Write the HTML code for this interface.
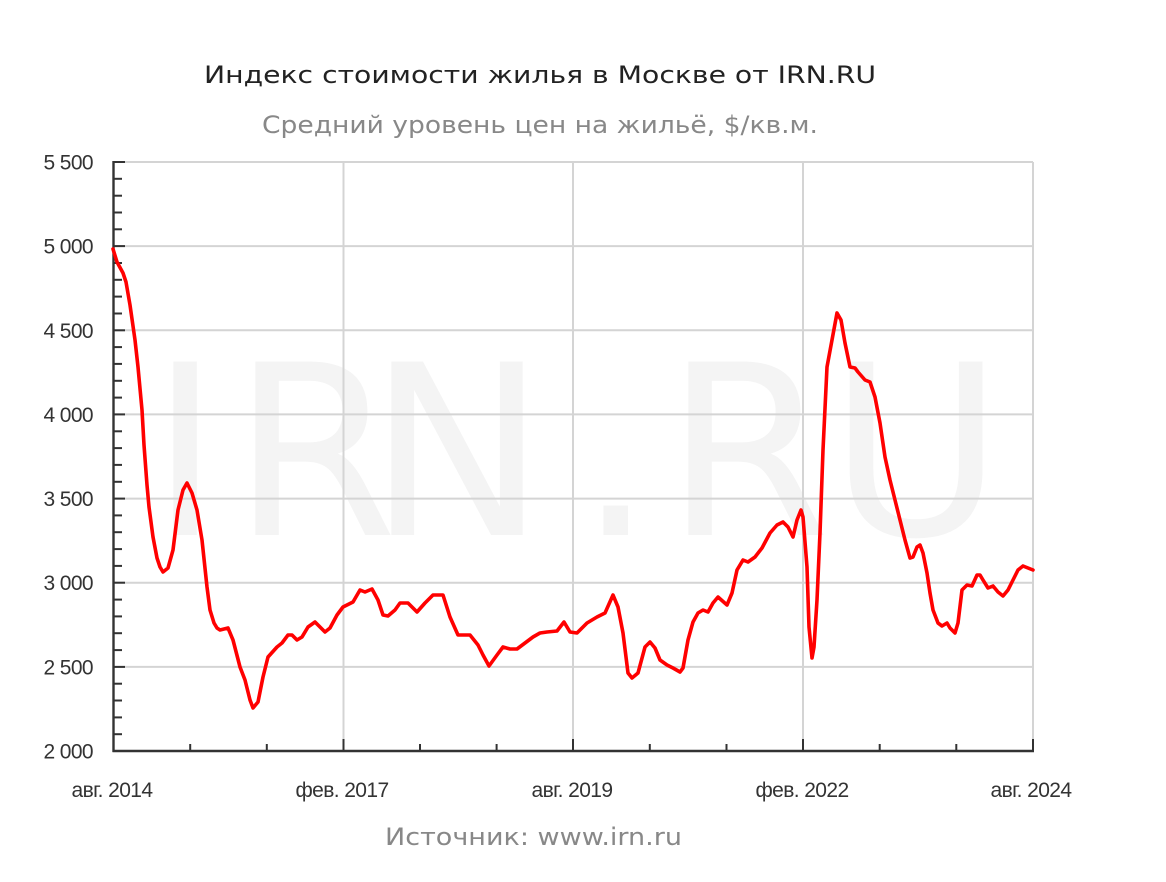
<!DOCTYPE html>
<html>
<head>
<meta charset="utf-8">
<style>
html,body{margin:0;padding:0;background:#fff;}
svg{display:block;}
</style>
</head>
<body>
<svg width="1166" height="882" viewBox="0 0 1166 882" xmlns="http://www.w3.org/2000/svg">
<rect x="0" y="0" width="1166" height="882" fill="#fff"/>
<!-- watermark -->
<g font-family="'DejaVu Sans', Verdana, sans-serif" font-size="238" fill="#f4f4f4">
<text x="150" y="535">I</text>
<text x="232" y="535">R</text>
<text x="368" y="535">N</text>
<text x="578" y="535">.</text>
<text x="665" y="535">R</text>
<text x="829" y="535">U</text>
</g>
<!-- gridlines -->
<g stroke="#d4d4d4" stroke-width="2" fill="none">
<line x1="113" y1="162" x2="1033" y2="162"/>
<line x1="113" y1="246.1" x2="1033" y2="246.1"/>
<line x1="113" y1="330.3" x2="1033" y2="330.3"/>
<line x1="113" y1="414.4" x2="1033" y2="414.4"/>
<line x1="113" y1="498.6" x2="1033" y2="498.6"/>
<line x1="113" y1="582.7" x2="1033" y2="582.7"/>
<line x1="113" y1="666.9" x2="1033" y2="666.9"/>
<line x1="343.5" y1="162" x2="343.5" y2="751"/>
<line x1="573" y1="162" x2="573" y2="751"/>
<line x1="803" y1="162" x2="803" y2="751"/>
<line x1="1033" y1="162" x2="1033" y2="751"/>
</g>
<!-- axes -->
<g stroke="#333" stroke-width="2.4" fill="none">
<line x1="113.5" y1="161" x2="113.5" y2="752"/>
<line x1="112.5" y1="751" x2="1034" y2="751"/>
</g>
<!-- y ticks -->
<g stroke="#333" stroke-width="2">
<line x1="113" y1="162" x2="125" y2="162"/>
<line x1="113" y1="178.8" x2="122" y2="178.8"/>
<line x1="113" y1="195.7" x2="122" y2="195.7"/>
<line x1="113" y1="212.5" x2="122" y2="212.5"/>
<line x1="113" y1="229.3" x2="122" y2="229.3"/>
<line x1="113" y1="246.1" x2="125" y2="246.1"/>
<line x1="113" y1="263.0" x2="122" y2="263.0"/>
<line x1="113" y1="279.8" x2="122" y2="279.8"/>
<line x1="113" y1="296.6" x2="122" y2="296.6"/>
<line x1="113" y1="313.5" x2="122" y2="313.5"/>
<line x1="113" y1="330.3" x2="125" y2="330.3"/>
<line x1="113" y1="347.1" x2="122" y2="347.1"/>
<line x1="113" y1="363.9" x2="122" y2="363.9"/>
<line x1="113" y1="380.8" x2="122" y2="380.8"/>
<line x1="113" y1="397.6" x2="122" y2="397.6"/>
<line x1="113" y1="414.4" x2="125" y2="414.4"/>
<line x1="113" y1="431.3" x2="122" y2="431.3"/>
<line x1="113" y1="448.1" x2="122" y2="448.1"/>
<line x1="113" y1="464.9" x2="122" y2="464.9"/>
<line x1="113" y1="481.8" x2="122" y2="481.8"/>
<line x1="113" y1="498.6" x2="125" y2="498.6"/>
<line x1="113" y1="515.4" x2="122" y2="515.4"/>
<line x1="113" y1="532.2" x2="122" y2="532.2"/>
<line x1="113" y1="549.1" x2="122" y2="549.1"/>
<line x1="113" y1="565.9" x2="122" y2="565.9"/>
<line x1="113" y1="582.7" x2="125" y2="582.7"/>
<line x1="113" y1="599.6" x2="122" y2="599.6"/>
<line x1="113" y1="616.4" x2="122" y2="616.4"/>
<line x1="113" y1="633.2" x2="122" y2="633.2"/>
<line x1="113" y1="650.1" x2="122" y2="650.1"/>
<line x1="113" y1="666.9" x2="125" y2="666.9"/>
<line x1="113" y1="683.7" x2="122" y2="683.7"/>
<line x1="113" y1="700.5" x2="122" y2="700.5"/>
<line x1="113" y1="717.4" x2="122" y2="717.4"/>
<line x1="113" y1="734.2" x2="122" y2="734.2"/>
</g>
<!-- x ticks -->
<g stroke="#333" stroke-width="2">
<line x1="190.2" y1="744" x2="190.2" y2="751"/>
<line x1="266.8" y1="744" x2="266.8" y2="751"/>
<line x1="343.5" y1="739" x2="343.5" y2="751"/>
<line x1="420" y1="744" x2="420" y2="751"/>
<line x1="496.6" y1="744" x2="496.6" y2="751"/>
<line x1="573" y1="739" x2="573" y2="751"/>
<line x1="649.8" y1="744" x2="649.8" y2="751"/>
<line x1="726.5" y1="744" x2="726.5" y2="751"/>
<line x1="803" y1="739" x2="803" y2="751"/>
<line x1="879.7" y1="744" x2="879.7" y2="751"/>
<line x1="956.3" y1="744" x2="956.3" y2="751"/>
<line x1="1033" y1="739" x2="1033" y2="751"/>
</g>
<!-- y labels -->
<g font-family="'Liberation Sans', Arial, sans-serif" font-size="21" fill="#333" text-anchor="end" letter-spacing="-0.6">
<text x="93" y="169.5">5 500</text>
<text x="93" y="253.6">5 000</text>
<text x="93" y="337.8">4 500</text>
<text x="93" y="421.9">4 000</text>
<text x="93" y="506.1">3 500</text>
<text x="93" y="590.2">3 000</text>
<text x="93" y="674.4">2 500</text>
<text x="93" y="758.5">2 000</text>
</g>
<!-- x labels -->
<g font-family="'Liberation Sans', Arial, sans-serif" font-size="21" fill="#333" text-anchor="middle" letter-spacing="-0.6">
<text x="112" y="797">авг. 2014</text>
<text x="342" y="797">фев. 2017</text>
<text x="572" y="797">авг. 2019</text>
<text x="802" y="797">фев. 2022</text>
<text x="1031" y="797">авг. 2024</text>
</g>
<!-- data line -->
<polyline fill="none" stroke="#ff0000" stroke-width="3.6" stroke-linejoin="round" stroke-linecap="round" points="
113,249 117,262 123,273 126,282 130,305 135,340 138,367 142,410 144,445 147,485 149,507 153,537 157,558 160,567 163,572 168,568 173,550 178,510 183,490 187,483 192,493 197,510 202,540 207,587 210,610 214,623 217,628 220,630 228,628 233,640 240,667 245,680 250,700 253,708 258,702 263,677 268,657 277,647 282,643 288,635 292,635 297,640 302,637 308,627 315,622 320,627 325,632 330,628 337,615 343,607 347,605 353,602 360,590 365,592 372,589 378,600 383,615 388,616 395,610 400,603 408,603 417,612 425,603 433,595 443,595 450,617 458,635 470,635 478,645 483,655 489,666 497,655 503,647 510,649 517,649 525,643 533,637 540,633 547,632 557,631 564,622 570,632 577,633 587,623 597,617 605,613 613,595 618,607 623,633 628,673 632,678 638,673 645,647 650,642 655,648 660,660 667,665 673,668 680,672 683,668 688,640 693,622 698,613 703,610 708,612 713,603 718,597 727,605 732,593 737,570 743,560 748,562 755,557 762,548 770,533 777,525 783,522 788,527 793,537 797,520 801,510 803,517 807,567 809,627 812,658 814,647 817,600 820,533 823,450 827,367 832,340 837,313 841,320 845,343 850,367 855,368 858,372 865,380 870,382 875,397 880,423 885,457 890,480 895,500 900,520 905,540 910,558 913,557 917,547 920,545 923,553 927,573 930,593 933,610 938,623 942,626 947,623 950,628 955,633 958,623 962,590 967,585 972,586 977,575 980,575 983,580 988,588 993,586 998,592 1003,596 1008,590 1013,580 1018,570 1023,566 1028,568 1033,570"/>
<!-- titles -->
<text x="204" y="83" font-family="'DejaVu Sans', Verdana, sans-serif" font-size="24" fill="#222" textLength="672" lengthAdjust="spacingAndGlyphs">Индекс стоимости жилья в Москве от IRN.RU</text>
<text x="262" y="133" font-family="'DejaVu Sans', Verdana, sans-serif" font-size="24" fill="#888" textLength="556" lengthAdjust="spacingAndGlyphs">Средний уровень цен на жильё, $/кв.м.</text>
<text x="385" y="845" font-family="'DejaVu Sans', Verdana, sans-serif" font-size="24" fill="#888" textLength="297" lengthAdjust="spacingAndGlyphs">Источник: www.irn.ru</text>
</svg>
</body>
</html>
